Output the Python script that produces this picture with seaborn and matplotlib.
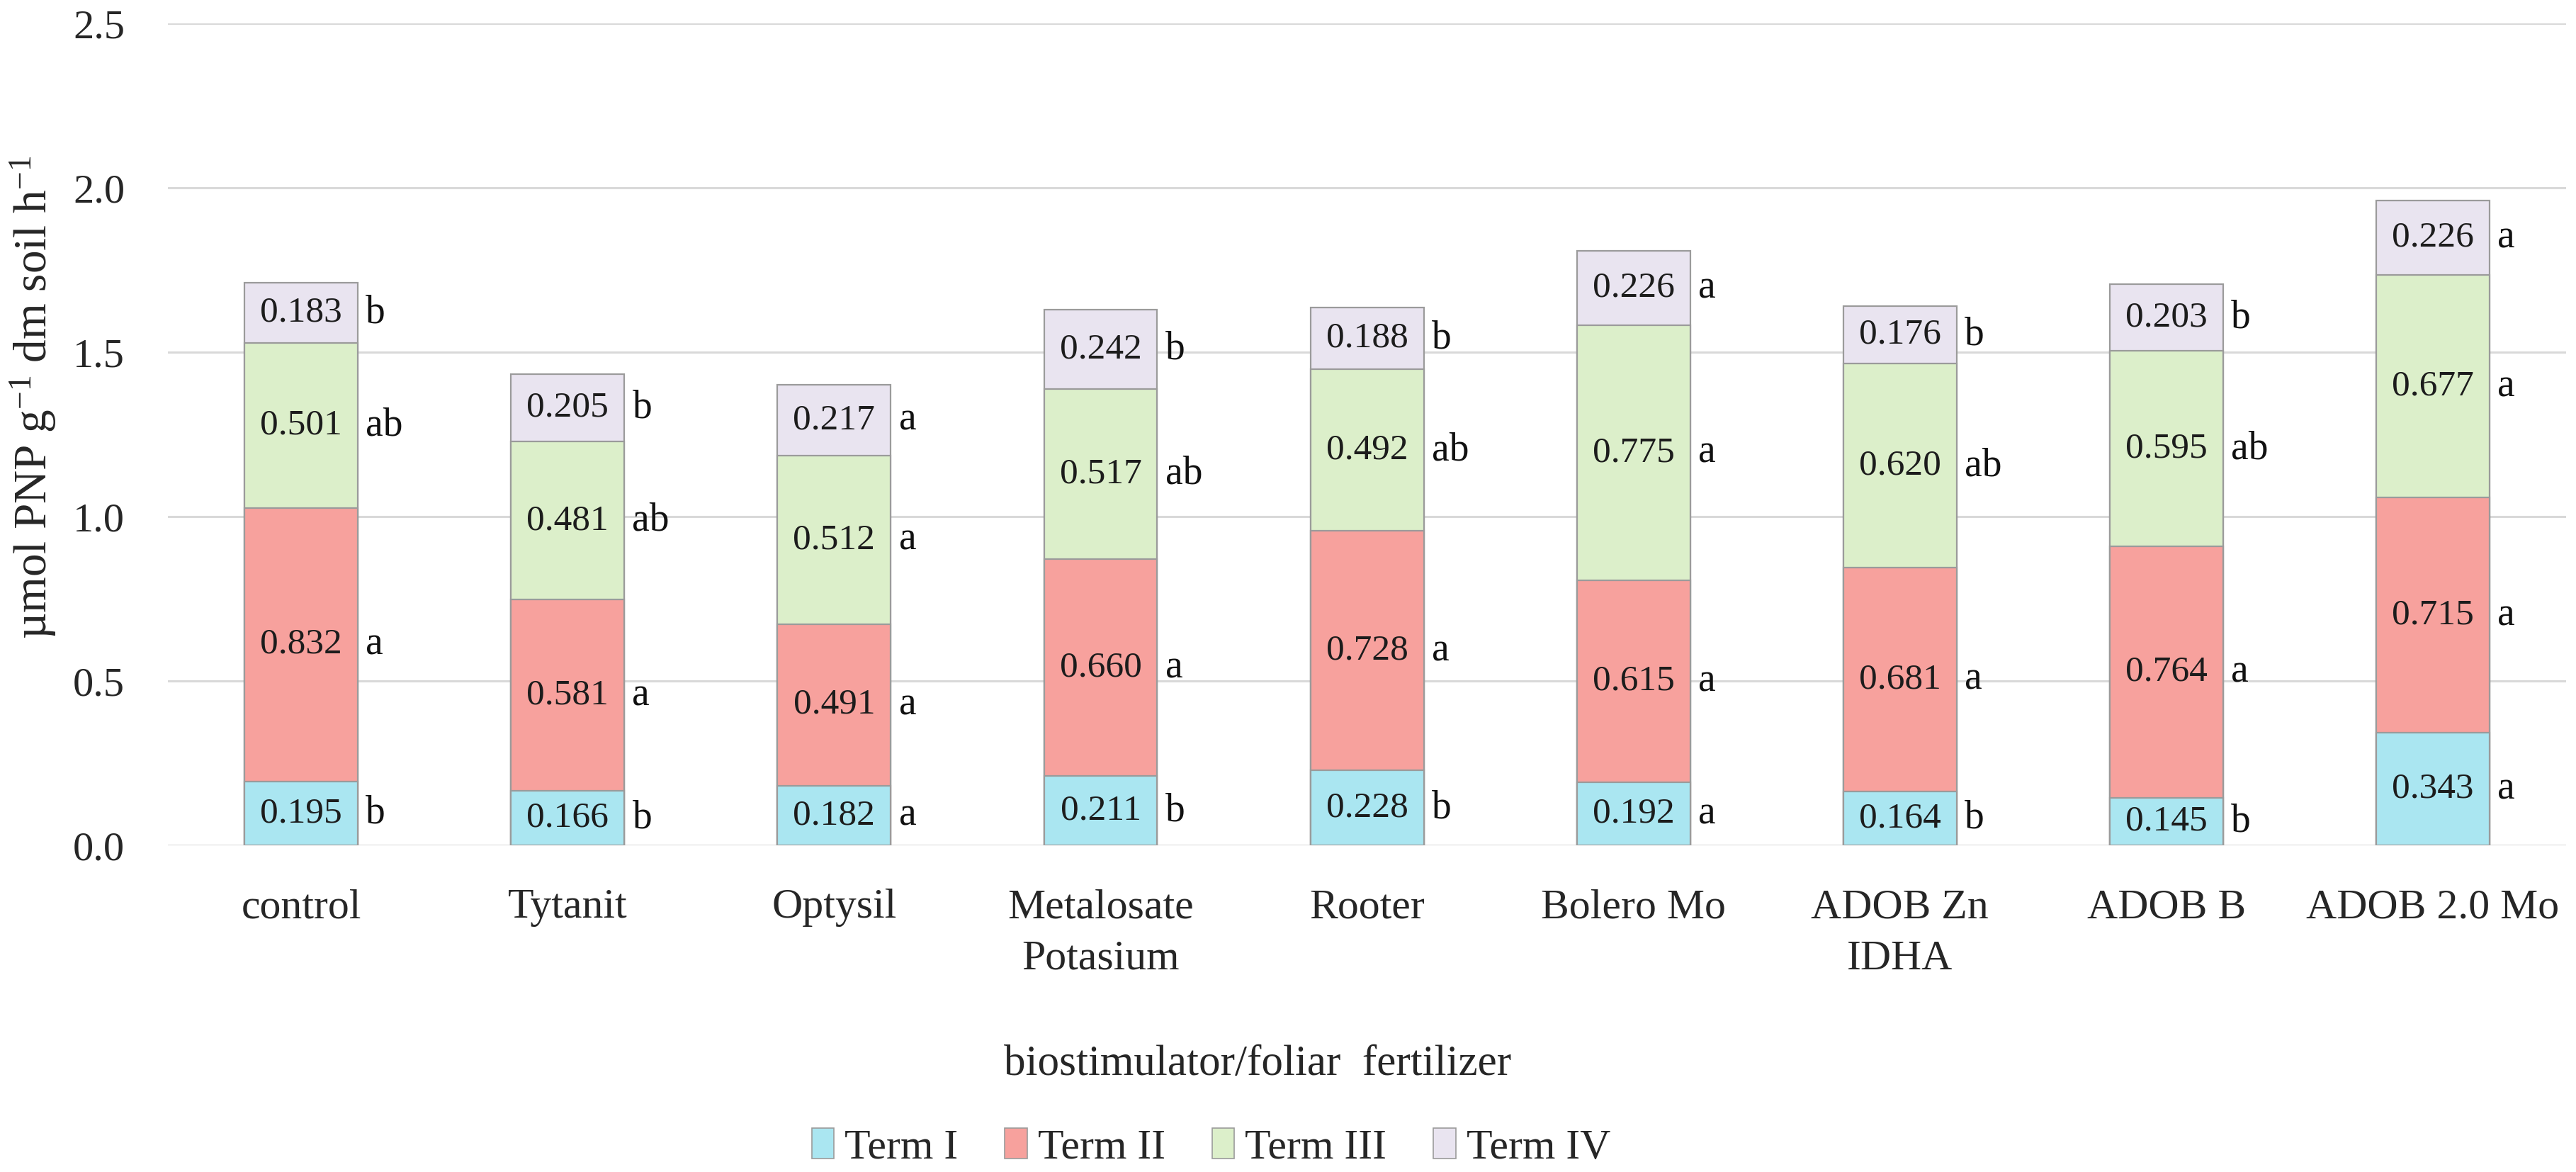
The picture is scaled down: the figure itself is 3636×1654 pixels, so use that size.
"""Stacked bar chart of PNP activity per biostimulator and term."""

import matplotlib.pyplot as plt
import numpy as np
import pandas as pd
import seaborn as sns
from matplotlib.patches import Patch

categories = ["control", "Tytanit", "Optysil", "Metalosate\nPotasium", "Rooter",
              "Bolero Mo", "ADOB Zn\nIDHA", "ADOB B", "ADOB 2.0 Mo"]
terms = ["Term I", "Term II", "Term III", "Term IV"]

term1 = [0.195, 0.166, 0.182, 0.211, 0.228, 0.192, 0.164, 0.145, 0.343]
term2 = [0.832, 0.581, 0.491, 0.660, 0.728, 0.615, 0.681, 0.764, 0.715]
term3 = [0.501, 0.481, 0.512, 0.517, 0.492, 0.775, 0.620, 0.595, 0.677]
term4 = [0.183, 0.205, 0.217, 0.242, 0.188, 0.226, 0.176, 0.203, 0.226]

letters1 = ["b", "b", "a", "b", "b", "a", "b", "b", "a"]
letters2 = ["a", "a", "a", "a", "a", "a", "a", "a", "a"]
letters3 = ["ab", "ab", "a", "ab", "ab", "a", "ab", "ab", "a"]
letters4 = ["b", "b", "a", "b", "b", "a", "b", "b", "a"]

colors = ["#aae6f1", "#f7a19d", "#dcefca", "#e9e4f0"]

sns.set_style("white")
plt.rcParams["font.family"] = ["Liberation Serif", "DejaVu Serif"]
plt.rcParams["mathtext.fontset"] = "custom"
plt.rcParams["mathtext.rm"] = "Liberation Serif"
plt.rcParams["mathtext.it"] = "Liberation Serif:italic"

values = np.array([term1, term2, term3, term4])
tops = values.cumsum(axis=0)
bottoms = tops - values
letters = [letters1, letters2, letters3, letters4]

fig = plt.figure(figsize=(36.37, 16.54), dpi=100)
ax = fig.add_axes([0.0652, 0.2787, 0.9307, 0.7013])

# draw cumulative totals from the top term down so lower segments overlay
bar_w = 0.425
for k in range(3, -1, -1):
    df = pd.DataFrame({"cat": categories, "top": tops[k]})
    sns.barplot(data=df, x="cat", y="top", color=colors[k], saturation=1,
                width=bar_w, edgecolor="#9b9b9b", linewidth=1.6, ax=ax, zorder=3)

for k in range(4):
    for i in range(len(categories)):
        mid = bottoms[k, i] + values[k, i] / 2
        ax.text(i, mid, f"{values[k, i]:.3f}", ha="center", va="center",
                fontsize=37, color="#1c1c1c", zorder=5)
        ax.text(i + bar_w / 2 + 0.03, mid, letters[k][i], ha="left", va="center",
                fontsize=40, color="#111111", zorder=5)

ax.set_ylim(0, 2.5)
ax.set_xlim(-0.5, len(categories) - 0.5)
ax.set_yticks(np.arange(0, 2.51, 0.5))
ax.set_yticklabels([f"{v:.1f}" for v in np.arange(0, 2.51, 0.5)])
ax.yaxis.grid(True, color="#d9d9d9", linewidth=2.2, zorder=0)
ax.set_axisbelow(True)
sns.despine(ax=ax, left=True, bottom=True)
ax.tick_params(axis="both", length=0, labelsize=42)
ax.tick_params(axis="x", pad=44, labelsize=43)
ax.tick_params(axis="y", pad=44)
for lbl in ax.get_xticklabels():
    lbl.set_linespacing(1.45)

ax.set_xlabel("biostimulator/foliar  fertilizer", fontsize=44)
ax.xaxis.set_label_coords(0.4544, -0.267)
ax.xaxis.label.set_va("center")

ax.set_ylabel("µmol PNP g$^{-1}$ dm soil h$^{-1}$", fontsize=47)
ax.yaxis.set_label_coords(-0.0564, 0.545)
ax.yaxis.label.set_va("center")

handles = [Patch(facecolor=c, edgecolor="#9b9b9b", linewidth=1.2) for c in colors]
fig.legend(handles, terms, loc="center", bbox_to_anchor=(0.47, 0.0206), ncol=4,
           frameon=False, fontsize=43, handlelength=0.53, handleheight=0.72,
           handletextpad=0.25, columnspacing=1.1)

fig.savefig("out.png", dpi=100)
plt.close(fig)
